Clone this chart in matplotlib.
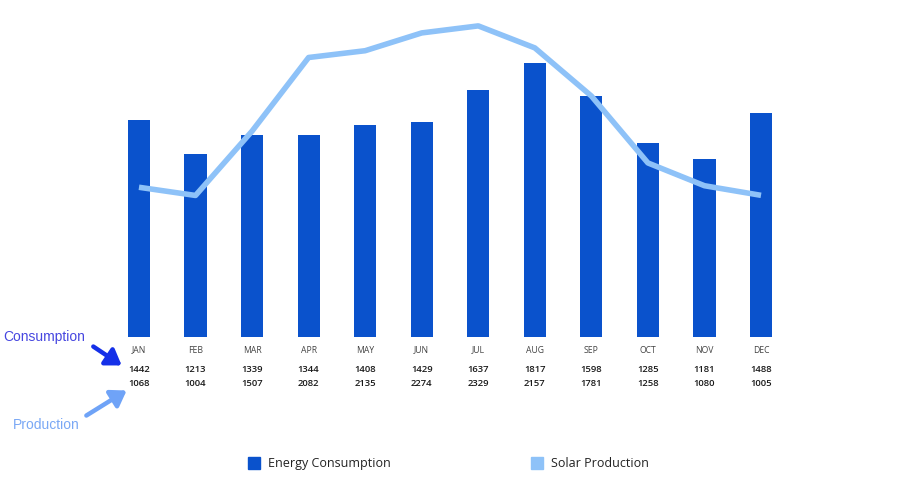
import matplotlib
matplotlib.use("Agg")
import matplotlib.pyplot as plt

months = ["JAN", "FEB", "MAR", "APR", "MAY", "JUN", "JUL", "AUG", "SEP", "OCT", "NOV", "DEC"]
consumption = [1442, 1213, 1339, 1344, 1408, 1429, 1637, 1817, 1598, 1285, 1181, 1488]
production = [1068, 1004, 1507, 2082, 2135, 2274, 2329, 2157, 1781, 1258, 1080, 1005]

BAR_COLOR = "#0a52cc"
LINE_COLOR = "#8ec2f8"
FONT = ["Open Sans", "DejaVu Sans"]

W, H = 900, 490
fig = plt.figure(figsize=(9, 4.9), dpi=100)

# axes spans pixel x 110.7..789.3, y 20..337
left_px, right_px, top_px, bot_px = 110.7, 789.3, 20, 337
ax = fig.add_axes([left_px / W, 1 - bot_px / H, (right_px - left_px) / W, (bot_px - top_px) / H])
ax2 = ax.twinx()

x = list(range(len(months)))
ax.bar(x, consumption, width=0.39, color=BAR_COLOR, zorder=2)
ax.set_xlim(-0.5, len(months) - 0.5)
ax.set_ylim(0, 2105)

ax2.plot(x, production, color=LINE_COLOR, lw=4.0, solid_joinstyle="round",
         solid_capstyle="butt", zorder=3)
ax2.set_ylim(-102, 2375)

for a in (ax, ax2):
    a.set_yticks([])
    a.set_xticks([])
    for s in a.spines.values():
        s.set_visible(False)
ax.set_zorder(1)
ax2.set_zorder(2)
ax2.patch.set_visible(False)

# month labels and table values below axis
trans = ax.get_xaxis_transform()
def ay(py):
    return 1 - (py - top_px) / (bot_px - top_px)

for i, m in enumerate(months):
    ax.text(i, ay(350), m, transform=trans, ha="center", va="center",
            fontsize=6.2, color="#444444", family=FONT)
    ax.text(i, ay(369), str(consumption[i]), transform=trans,
            ha="center", va="center", fontsize=6.8, color="#1a1a1a", family=FONT,
            fontweight="semibold")
    ax.text(i, ay(383), str(production[i]), transform=trans,
            ha="center", va="center", fontsize=6.8, color="#1a1a1a", family=FONT,
            fontweight="semibold")

def fx(px):
    return px / W

def fy(py):
    return 1 - py / H

fig.text(fx(3), fy(337), "Consumption", ha="left", va="center", fontsize=10,
         color="#4646e0", family=["Liberation Sans", "DejaVu Sans"])
fig.text(fx(13), fy(425), "Production", ha="left", va="center", fontsize=10,
         color="#7aa8f5", family=["Liberation Sans", "DejaVu Sans"])
fig.add_artist(matplotlib.patches.FancyArrowPatch(
    (fx(91), fy(345)), (fx(124), fy(367)), transform=fig.transFigure,
    arrowstyle="-|>,head_length=9,head_width=6", lw=3.2, color="#1530e8"))
fig.add_artist(matplotlib.patches.FancyArrowPatch(
    (fx(84), fy(417)), (fx(129), fy(389)), transform=fig.transFigure,
    arrowstyle="-|>,head_length=9,head_width=6", lw=3.2, color="#6fa3f7"))

# legend
for sx, label, col in [(248, "Energy Consumption", BAR_COLOR), (531, "Solar Production", LINE_COLOR)]:
    fig.add_artist(matplotlib.patches.Rectangle((fx(sx), fy(469)), 12 / W, 12 / H,
                                                transform=fig.transFigure, color=col))
    fig.text(fx(sx + 20), fy(463), label, ha="left", va="center", fontsize=9,
             color="#222222", family=FONT)

fig.savefig("out.png", dpi=100)
